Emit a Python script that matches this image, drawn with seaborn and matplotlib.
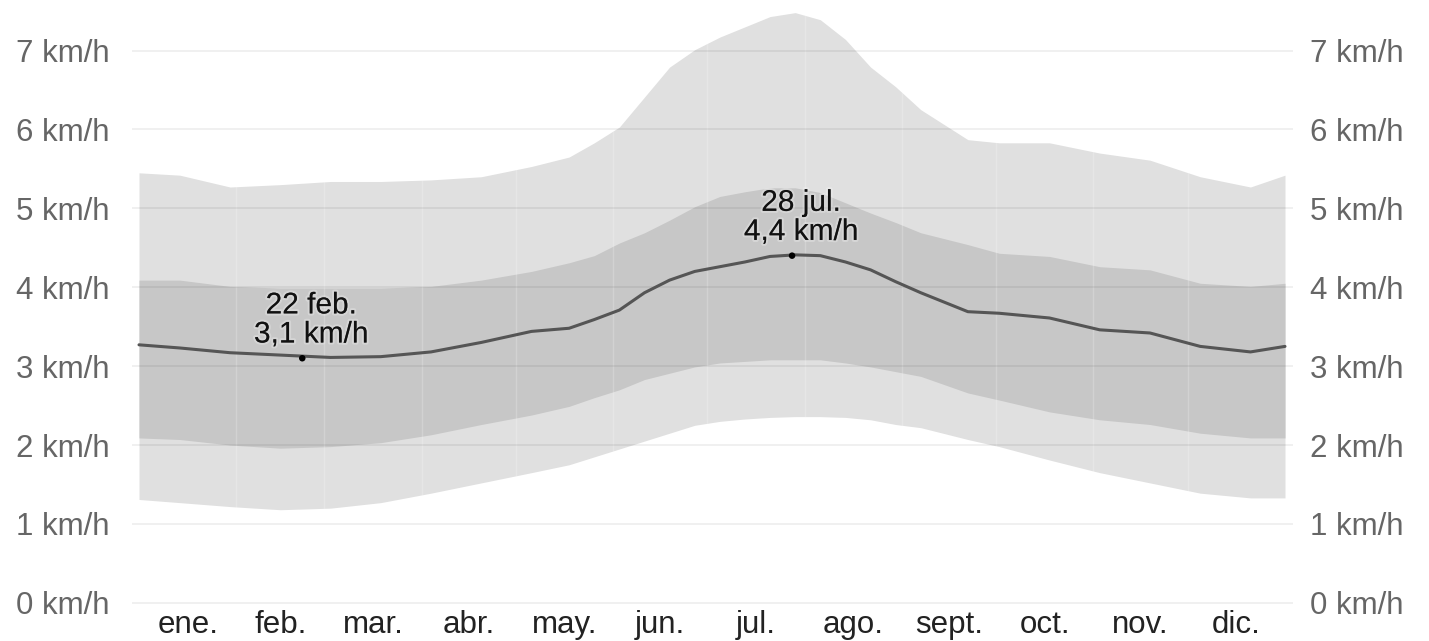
import matplotlib
matplotlib.use("Agg")
import matplotlib.pyplot as plt
import matplotlib.patheffects as pe
import seaborn as sns
import pandas as pd

days = [0, 13, 29, 45, 61, 77, 93, 109, 125, 137, 145, 153, 161, 169, 177, 185,
        193, 201, 209, 217, 225, 233, 241, 249, 264, 274, 290, 306, 322, 338, 354, 365]

# 10th / 25th / 50th / 75th / 90th percentile wind speed, km/h
p90 = [5.45, 5.42, 5.27, 5.30, 5.34, 5.34, 5.36, 5.40, 5.53, 5.65, 5.83, 6.03,
       6.41, 6.79, 7.01, 7.17, 7.30, 7.43, 7.48, 7.39, 7.14, 6.79, 6.54, 6.25,
       5.87, 5.83, 5.83, 5.70, 5.61, 5.40, 5.27, 5.42]
p75 = [4.09, 4.09, 4.01, 3.99, 3.99, 3.99, 4.01, 4.09, 4.20, 4.31, 4.40, 4.56,
       4.69, 4.85, 5.02, 5.15, 5.21, 5.26, 5.26, 5.20, 5.07, 4.94, 4.82, 4.69,
       4.54, 4.43, 4.39, 4.26, 4.22, 4.05, 4.01, 4.05]
median = [3.27, 3.23, 3.17, 3.14, 3.11, 3.12, 3.18, 3.30, 3.44, 3.48, 3.59, 3.71,
          3.93, 4.09, 4.20, 4.26, 4.32, 4.39, 4.41, 4.40, 4.32, 4.22, 4.07, 3.93,
          3.69, 3.67, 3.61, 3.46, 3.42, 3.25, 3.18, 3.25]
p25 = [2.09, 2.07, 2.00, 1.96, 1.98, 2.03, 2.13, 2.26, 2.38, 2.49, 2.60, 2.70,
       2.83, 2.91, 2.99, 3.04, 3.06, 3.08, 3.08, 3.08, 3.04, 2.99, 2.93, 2.87,
       2.66, 2.57, 2.42, 2.32, 2.26, 2.15, 2.09, 2.09]
p10 = [1.31, 1.27, 1.22, 1.18, 1.20, 1.27, 1.39, 1.52, 1.65, 1.75, 1.85, 1.95,
       2.05, 2.15, 2.25, 2.30, 2.33, 2.35, 2.36, 2.36, 2.35, 2.32, 2.26, 2.22,
       2.07, 1.98, 1.81, 1.65, 1.52, 1.39, 1.33, 1.33]

# annotated extremes of the median
mark_days = [52, 208]
mark_vals = [3.1, 4.4]
mark_text = ["22 feb.\n3,1 km/h", "28 jul.\n4,4 km/h"]

month_names = ["ene.", "feb.", "mar.", "abr.", "may.", "jun.",
               "jul.", "ago.", "sept.", "oct.", "nov.", "dic."]
month_len = [31, 28, 31, 30, 31, 30, 31, 31, 30, 31, 30, 31]
y_ticks = [0, 1, 2, 3, 4, 5, 6, 7]

df = pd.DataFrame({"day": days, "p10": p10, "p25": p25, "median": median,
                   "p75": p75, "p90": p90})

sns.set_style("white")
plt.rcParams["font.family"] = ["Liberation Sans", "DejaVu Sans"]

fig = plt.figure(figsize=(14.29, 6.41), dpi=100)
ax = fig.add_axes([132 / 1429, 35 / 641, 1161 / 1429, 606 / 641])

ax.fill_between(df["day"], df["p10"], df["p90"], color="#e0e0e0", lw=0, zorder=1)
ax.fill_between(df["day"], df["p25"], df["p75"], color="#c7c7c7", lw=0, zorder=2)

# month boundaries, faint
starts = []
acc = 0
for n in month_len[:-1]:
    acc += n
    starts.append(acc)
ax.vlines(starts, 0, 7.6, color="white", alpha=0.2, lw=1, zorder=3)

for v in y_ticks:
    ax.axhline(v, color="black", alpha=0.07, lw=1.2, zorder=3)

sns.lineplot(data=df, x="day", y="median", color="#555555", lw=2.2, ax=ax, zorder=4)
sns.scatterplot(x=mark_days, y=mark_vals, color="black", s=22, edgecolor="none",
                ax=ax, zorder=5)
for d, v, t in zip(mark_days, mark_vals, mark_text):
    ax.annotate(t, xy=(d, v), xytext=(6.5, 7), textcoords="offset points",
                ha="center", va="bottom", fontsize=21.5, color="#111111",
                linespacing=1.05, zorder=6,
                path_effects=[pe.withStroke(linewidth=3, foreground=(1, 1, 1, 0.25))])

ax.set_xlim(-2.23, 367.55)
ax.set_ylim(-0.04, 7.64)

centres = []
acc = 0
for n in month_len:
    centres.append(acc + n / 2)
    acc += n
ax.set_xticks(centres)
ax.set_xticklabels(month_names)
ax.set_yticks(y_ticks)
ax.set_yticklabels([f"{v} km/h" for v in y_ticks])
ax.tick_params(axis="x", length=0, pad=3, labelsize=22.5, labelcolor="#222222")
ax.tick_params(axis="y", length=0, pad=16, labelsize=22.5, labelcolor="#666666")
ax.set_xlabel("")
ax.set_ylabel("")

ax2 = ax.twinx()
ax2.set_ylim(ax.get_ylim())
ax2.set_yticks(y_ticks)
ax2.set_yticklabels([f"{v} km/h" for v in y_ticks])
ax2.tick_params(axis="y", length=0, pad=12, labelsize=22.5, labelcolor="#666666")

for a in (ax, ax2):
    for s in a.spines.values():
        s.set_visible(False)

fig.savefig("out.png", dpi=100)
